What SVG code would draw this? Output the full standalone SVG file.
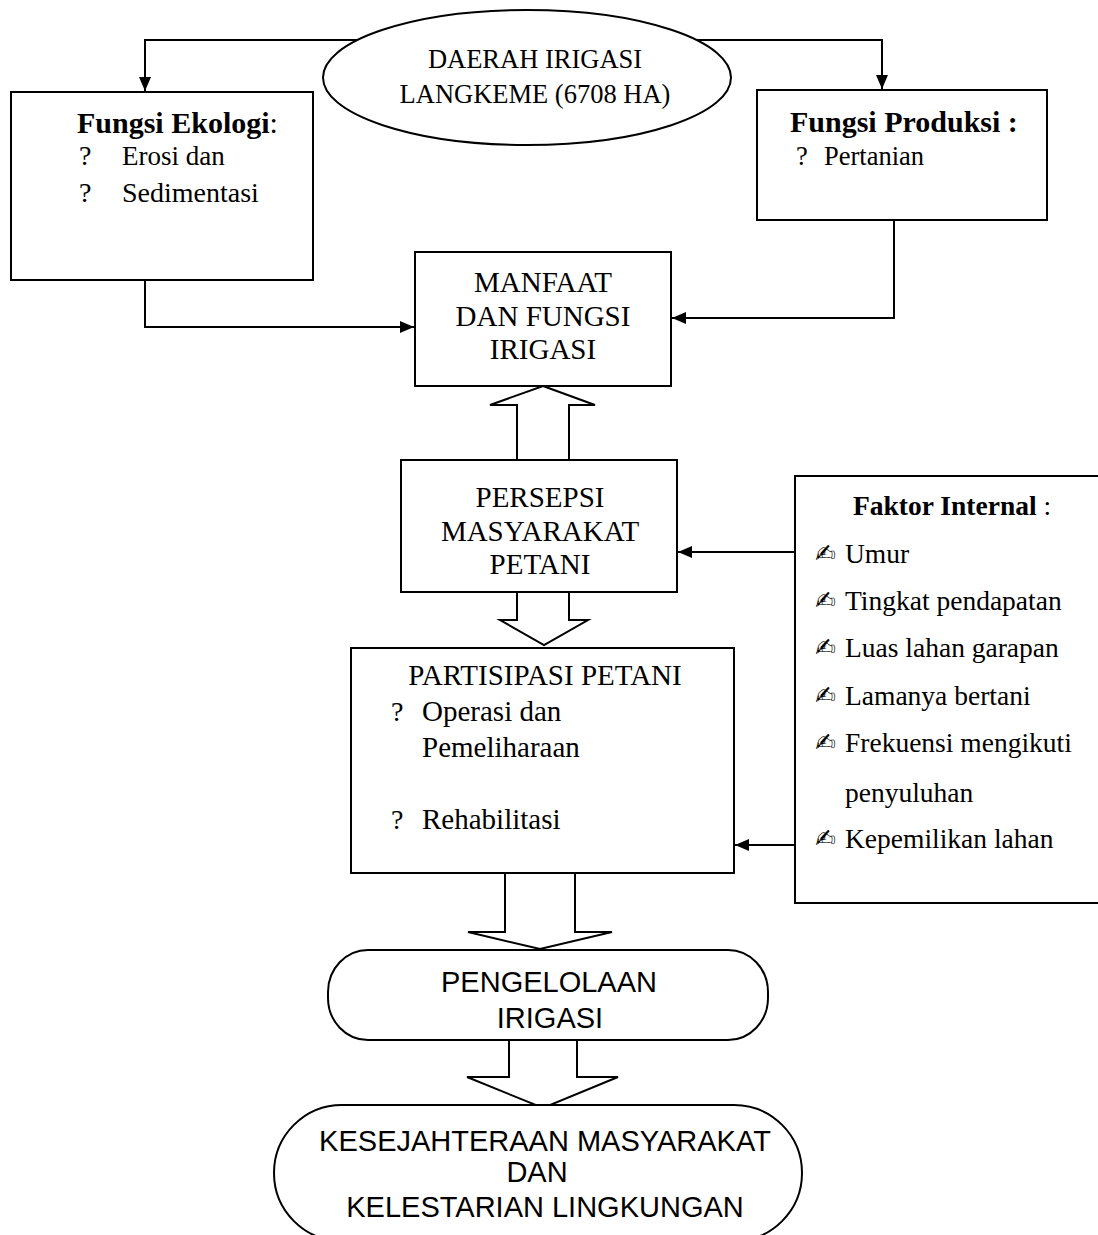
<svg xmlns="http://www.w3.org/2000/svg" width="1098" height="1235" viewBox="0 0 1098 1235">
<defs>
<marker id="ah" markerUnits="userSpaceOnUse" markerWidth="14" markerHeight="12" refX="14" refY="6" orient="auto">
<path d="M0,0 L14,6 L0,12 z" fill="#000"/>
</marker>
<style>
.bx{fill:#fff;stroke:#000;stroke-width:2}
.ln{fill:none;stroke:#000;stroke-width:2;marker-end:url(#ah)}
.ha{fill:#fff;stroke:#000;stroke-width:2;stroke-linejoin:miter}
.t{font-family:"Liberation Serif","Times New Roman",serif;fill:#000}
.a{font-family:"Liberation Sans",Arial,sans-serif;fill:#000;font-size:29px;text-anchor:middle}
.c{text-anchor:middle}
.b{font-weight:bold}
.i{font-family:"DejaVu Sans",sans-serif;font-size:25px}
</style>
</defs>
<rect width="1098" height="1235" fill="#fff"/>

<g id="connectors">
<path class="ln" d="M357,40 H145 V91"/>
<path class="ln" d="M697,40 H882 V89"/>
<path class="ln" d="M145,280 V327 H414"/>
<path class="ln" d="M894,220 V318 H672"/>
<path class="ln" d="M795,552 H678"/>
<path class="ln" d="M795,845 H735"/>
<polygon class="ha" points="543,386 595,405 569,405 569,460 517,460 517,405 490,405"/>
<polygon class="ha" points="517,592 569,592 569,620 588,620 544,645 500,620 517,620"/>
<polygon class="ha" points="505,873 575,873 575,932 612,932 540,949 468,932 505,932"/>
<polygon class="ha" points="509,1040 577,1040 577,1077 618,1077 543,1108 467,1077 509,1077"/>
</g>

<g id="daerah">
<ellipse class="bx" cx="527" cy="77.5" rx="204" ry="67.5"/>
<text class="t c" x="535" y="68" font-size="26.5">DAERAH IRIGASI</text>
<text class="t c" x="535" y="103" font-size="26.5">LANGKEME (6708 HA)</text>
</g>

<g id="ekologi">
<rect class="bx" x="11" y="92" width="302" height="188"/>
<text class="t" x="77" y="133" font-size="30"><tspan class="b">Fungsi Ekologi</tspan>:</text>
<text class="t" x="79" y="165" font-size="28">?</text>
<text class="t" x="122" y="165" font-size="27">Erosi dan</text>
<text class="t" x="79" y="202" font-size="28">?</text>
<text class="t" x="122" y="202" font-size="28">Sedimentasi</text>
</g>

<g id="produksi">
<rect class="bx" x="757" y="90" width="290" height="130"/>
<text class="t b" x="790" y="132" font-size="30">Fungsi Produksi :</text>
<text class="t" x="796" y="165" font-size="26.5">?</text>
<text class="t" x="824" y="165" font-size="26.5">Pertanian</text>
</g>

<g id="manfaat">
<rect class="bx" x="415" y="252" width="256" height="134"/>
<text class="t c" x="543" y="292" font-size="29">MANFAAT</text>
<text class="t c" x="543" y="326" font-size="29">DAN FUNGSI</text>
<text class="t c" x="543" y="359" font-size="29">IRIGASI</text>
</g>

<g id="persepsi">
<rect class="bx" x="401" y="460" width="276" height="132"/>
<text class="t c" x="540" y="507" font-size="29">PERSEPSI</text>
<text class="t c" x="540" y="541" font-size="29">MASYARAKAT</text>
<text class="t c" x="540" y="574" font-size="29">PETANI</text>
</g>

<g id="partisipasi">
<rect class="bx" x="351" y="648" width="383" height="225"/>
<text class="t c" x="545" y="685" font-size="29">PARTISIPASI PETANI</text>
<text class="t" x="391" y="721" font-size="28">?</text>
<text class="t" x="422" y="721" font-size="29">Operasi dan</text>
<text class="t" x="422" y="757" font-size="29">Pemeliharaan</text>
<text class="t" x="391" y="829" font-size="28">?</text>
<text class="t" x="422" y="829" font-size="29">Rehabilitasi</text>
</g>

<g id="faktor">
<rect class="bx" x="795" y="476" width="310" height="427"/>
<text class="t" x="853" y="515" font-size="27.5"><tspan class="b">Faktor Internal</tspan> :</text>
<text class="t i" x="815" y="562">✍</text>
<text class="t" x="845" y="563" font-size="27.5">Umur</text>
<text class="t i" x="815" y="609">✍</text>
<text class="t" x="845" y="610" font-size="27.5">Tingkat pendapatan</text>
<text class="t i" x="815" y="656">✍</text>
<text class="t" x="845" y="657" font-size="27.5">Luas lahan garapan</text>
<text class="t i" x="815" y="704">✍</text>
<text class="t" x="845" y="705" font-size="27.5">Lamanya bertani</text>
<text class="t i" x="815" y="751">✍</text>
<text class="t" x="845" y="752" font-size="27.5">Frekuensi mengikuti</text>
<text class="t" x="845" y="802" font-size="27.5">penyuluhan</text>
<text class="t i" x="815" y="847">✍</text>
<text class="t" x="845" y="848" font-size="27.5">Kepemilikan lahan</text>
</g>

<g id="pengelolaan">
<rect class="bx" x="328" y="950" width="440" height="90" rx="40" ry="42"/>
<text class="a" x="549" y="992">PENGELOLAAN</text>
<text class="a" x="550" y="1028">IRIGASI</text>
</g>

<g id="kesejahteraan">
<rect class="bx" x="274" y="1105" width="528" height="136" rx="68" ry="68"/>
<text class="a" x="545" y="1151">KESEJAHTERAAN MASYARAKAT</text>
<text class="a" x="537" y="1182">DAN</text>
<text class="a" x="545" y="1217">KELESTARIAN LINGKUNGAN</text>
</g>
</svg>
